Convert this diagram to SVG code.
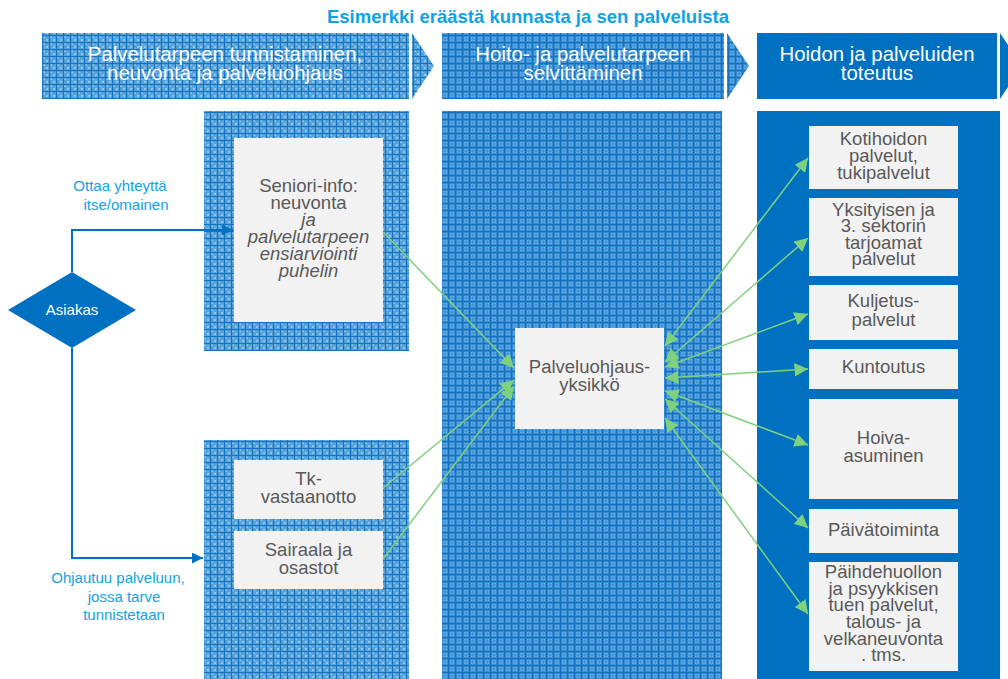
<svg xmlns="http://www.w3.org/2000/svg" width="1008" height="679" viewBox="0 0 1008 679">
  <defs>
    <!-- light grid texture for the first phase -->
    <pattern id="gridA" width="7" height="7" patternUnits="userSpaceOnUse">
      <rect width="7" height="7" fill="#5aa4dc"/>
      <rect x="1" y="1" width="2" height="2" fill="#8ec3ea"/>
      <rect x="4" y="4" width="2" height="2" fill="#8ec3ea"/>
      <rect width="7" height="1.2" fill="#1574c2"/>
      <rect width="1.2" height="7" fill="#1574c2"/>
    </pattern>
    <!-- denser grid texture for the second phase -->
    <pattern id="gridB" width="7" height="7" patternUnits="userSpaceOnUse">
      <rect width="7" height="7" fill="#3a8fd4"/>
      <rect x="2" y="2" width="1.5" height="1.5" fill="#6db0e4"/>
      <rect x="4.5" y="2" width="1.5" height="1.5" fill="#6db0e4"/>
      <rect x="2" y="4.5" width="1.5" height="1.5" fill="#6db0e4"/>
      <rect x="4.5" y="4.5" width="1.5" height="1.5" fill="#6db0e4"/>
      <rect width="7" height="1.2" fill="#1372c0"/>
      <rect width="1.2" height="7" fill="#1372c0"/>
    </pattern>
    <marker id="blueHead" viewBox="0 0 10 10" refX="10" refY="5" markerWidth="5.5" markerHeight="5.5" orient="auto" markerUnits="strokeWidth">
      <path d="M0,0 L10,5 L0,10 z" fill="#0070c0"/>
    </marker>
    <marker id="greenHead" viewBox="0 0 10 10" refX="10" refY="5" markerWidth="9" markerHeight="9" orient="auto-start-reverse" markerUnits="strokeWidth">
      <path d="M0,0 L10,5 L0,10 z" fill="#7fd17f"/>
    </marker>
  </defs>
  <style>
    text { font-family: "Liberation Sans", Arial, sans-serif; }
    .title { font-size: 18.5px; font-weight: bold; fill: #10a2e6; }
    .head { font-size: 20.4px; fill: #ffffff; text-anchor: middle; }
    .box { fill: #f2f2f2; }
    .btxt { font-size: 18.5px; fill: #595959; text-anchor: middle; }
    .it { font-style: italic; }
    .lbl { font-size: 15px; fill: #10a2e6; text-anchor: middle; }
    .flow { fill: none; stroke: #0070c0; stroke-width: 2; marker-end: url(#blueHead); }
    .link { fill: none; stroke: #7fd17f; stroke-width: 1.5; }
    .one { marker-end: url(#greenHead); }
    .two { marker-start: url(#greenHead); marker-end: url(#greenHead); }
  </style>

  <rect width="1008" height="679" fill="#ffffff"/>

  <text class="title" x="528" y="23" text-anchor="middle">Esimerkki eräästä kunnasta ja sen palveluista</text>

  <!-- phase headers -->
  <g id="phase1">
    <rect x="42" y="33" width="367" height="66" fill="url(#gridA)"/>
    <polygon points="412,33 434,66 412,99" fill="url(#gridA)"/>
    <text class="head" x="225" y="61">Palvelutarpeen tunnistaminen,</text>
    <text class="head" x="225" y="80">neuvonta ja palveluohjaus</text>
  </g>
  <g id="phase2">
    <rect x="442" y="33" width="282" height="66" fill="url(#gridB)"/>
    <polygon points="727,33 749,66 727,99" fill="url(#gridB)"/>
    <text class="head" x="583" y="61">Hoito- ja palvelutarpeen</text>
    <text class="head" x="583" y="80">selvittäminen</text>
  </g>
  <g id="phase3">
    <rect x="757" y="33" width="240" height="66" fill="#0070c0"/>
    <polygon points="1000,33 1022,66 1000,99" fill="#0070c0"/>
    <text class="head" x="877" y="61">Hoidon ja palveluiden</text>
    <text class="head" x="877" y="80">toteutus</text>
  </g>

  <!-- column backgrounds -->
  <g id="columns">
    <rect x="204" y="111" width="205" height="240" fill="url(#gridA)"/>
    <rect x="204" y="440" width="205" height="239" fill="url(#gridA)"/>
    <rect x="442" y="111" width="280" height="568" fill="url(#gridB)"/>
    <rect x="757" y="111" width="243" height="568" fill="#0070c0"/>
  </g>

  <!-- client decision -->
  <g id="asiakas">
    <polygon points="72,272 136,310 72,348 8,310" fill="#0070c0"/>
    <text x="72" y="315" font-size="15" fill="#ffffff" text-anchor="middle">Asiakas</text>
  </g>

  <g id="seniori-info">
    <rect class="box" x="234" y="138" width="149" height="184"/>
    <text class="btxt" x="308.5" y="192">Seniori-info:</text>
    <text class="btxt" x="308.5" y="209">neuvonta</text>
    <text class="btxt it" x="308.5" y="226">ja</text>
    <text class="btxt it" x="308.5" y="243">palvelutarpeen</text>
    <text class="btxt it" x="308.5" y="260">ensiarviointi</text>
    <text class="btxt it" x="308.5" y="277">puhelin</text>
  </g>

  <g id="tk-vastaanotto">
    <rect class="box" x="234" y="460" width="149" height="59"/>
    <text class="btxt" x="308.5" y="485">Tk-</text>
    <text class="btxt" x="308.5" y="503">vastaanotto</text>
  </g>

  <g id="sairaala">
    <rect class="box" x="234" y="531" width="149" height="58"/>
    <text class="btxt" x="308.5" y="556">Sairaala ja</text>
    <text class="btxt" x="308.5" y="574">osastot</text>
  </g>

  <g id="palveluohjausyksikko">
    <rect class="box" x="515" y="328" width="149" height="101"/>
    <text class="btxt" x="589.5" y="373">Palveluohjaus-</text>
    <text class="btxt" x="589.5" y="391">yksikkö</text>
  </g>

  <g id="kotihoito">
    <rect class="box" x="809" y="126" width="149" height="63"/>
    <text class="btxt" x="883.5" y="145">Kotihoidon</text>
    <text class="btxt" x="883.5" y="162">palvelut,</text>
    <text class="btxt" x="883.5" y="179">tukipalvelut</text>
  </g>

  <g id="yksityiset">
    <rect class="box" x="809" y="198" width="149" height="78"/>
    <text class="btxt" x="883.5" y="216">Yksityisen ja</text>
    <text class="btxt" x="883.5" y="232">3. sektorin</text>
    <text class="btxt" x="883.5" y="249">tarjoamat</text>
    <text class="btxt" x="883.5" y="265">palvelut</text>
  </g>

  <g id="kuljetus">
    <rect class="box" x="809" y="285" width="149" height="55"/>
    <text class="btxt" x="883.5" y="307">Kuljetus-</text>
    <text class="btxt" x="883.5" y="326">palvelut</text>
  </g>

  <g id="kuntoutus">
    <rect class="box" x="809" y="349" width="149" height="40"/>
    <text class="btxt" x="883.5" y="373">Kuntoutus</text>
  </g>

  <g id="hoiva-asuminen">
    <rect class="box" x="809" y="399" width="149" height="100"/>
    <text class="btxt" x="883.5" y="444">Hoiva-</text>
    <text class="btxt" x="883.5" y="462">asuminen</text>
  </g>

  <g id="paivatoiminta">
    <rect class="box" x="809" y="509" width="149" height="44"/>
    <text class="btxt" x="883.5" y="536">Päivätoiminta</text>
  </g>

  <g id="paihdehuolto">
    <rect class="box" x="809" y="562" width="149" height="109"/>
    <text class="btxt" x="883.5" y="578">Päihdehuollon</text>
    <text class="btxt" x="883.5" y="595">ja psyykkisen</text>
    <text class="btxt" x="883.5" y="611">tuen palvelut,</text>
    <text class="btxt" x="883.5" y="628">talous- ja</text>
    <text class="btxt" x="883.5" y="645">velkaneuvonta</text>
    <text class="btxt" x="883.5" y="661">. tms.</text>
  </g>

  <!-- connectors -->
  <g id="connectors">
    <polyline class="flow" points="72,272 72,230 233,230"/>
    <polyline class="flow" points="72,348 72,558 203,558"/>

    <line class="link one" x1="383" y1="232" x2="514" y2="368"/>
    <line class="link one" x1="383" y1="488" x2="514" y2="380"/>
    <line class="link one" x1="383" y1="559" x2="514" y2="386"/>

    <line class="link two" x1="665" y1="346" x2="808" y2="158"/>
    <line class="link two" x1="665" y1="362" x2="808" y2="238"/>
    <line class="link two" x1="665" y1="367" x2="808" y2="314"/>
    <line class="link two" x1="665" y1="378" x2="808" y2="369"/>
    <line class="link two" x1="665" y1="391" x2="808" y2="445"/>
    <line class="link two" x1="665" y1="399" x2="808" y2="528"/>
    <line class="link two" x1="665" y1="418" x2="808" y2="614"/>
  </g>

  <!-- connector labels -->
  <g id="labels">
    <text class="lbl" x="120" y="191">Ottaa yhteyttä</text>
    <text class="lbl" x="126" y="210">itse/omainen</text>
    <text class="lbl" x="118" y="583">Ohjautuu palveluun,</text>
    <text class="lbl" x="124" y="602">jossa tarve</text>
    <text class="lbl" x="124" y="620">tunnistetaan</text>
  </g>
</svg>
